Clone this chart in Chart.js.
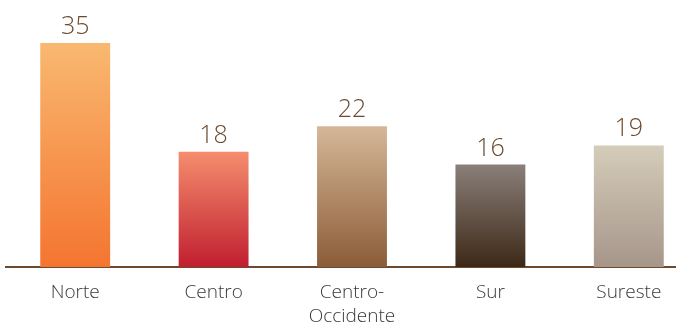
<!DOCTYPE html>
<html>
<head>
<meta charset="utf-8">
<script src="https://cdn.jsdelivr.net/npm/chart.js@4/dist/chart.umd.min.js"></script>
<style>
  html, body { margin: 0; padding: 0; background: #fff; overflow: hidden; }
  #wrap { width: 698px; height: 324px; position: relative; }
</style>
</head>
<body>
<div id="wrap"><canvas id="chart"></canvas></div>
<script>
const regiones = ['Norte', 'Centro', ['Centro-', 'Occidente'], 'Sur', 'Sureste'];
const valores = [35, 18, 22, 16, 19];
const coloresArriba = ['#F9B870', '#F58D6E', '#D5B797', '#8A7F7A', '#D5CCB9'];
const coloresAbajo = ['#F47530', '#C01F2F', '#8C5C38', '#3D2816', '#A6968A'];

const FONT = '"Open Sans", "Lato", sans-serif';

// degradado de cada barra, desde su valor hasta la base
function degradado(ctx) {
  const chart = ctx.chart;
  const { chartArea } = chart;
  if (!chartArea) return coloresArriba[ctx.dataIndex];
  const y = chart.scales.y;
  const top = y.getPixelForValue(valores[ctx.dataIndex]);
  const base = y.getPixelForValue(0);
  const g = chart.ctx.createLinearGradient(0, top, 0, base);
  g.addColorStop(0, coloresArriba[ctx.dataIndex]);
  g.addColorStop(1, coloresAbajo[ctx.dataIndex]);
  return g;
}

const etiquetasValor = {
  id: 'etiquetasValor',
  afterDatasetsDraw(chart) {
    const { ctx } = chart;
    const meta = chart.getDatasetMeta(0);
    ctx.save();
    ctx.font = '300 25px ' + FONT;
    ctx.fillStyle = '#6B4A2E';
    ctx.textAlign = 'center';
    ctx.textBaseline = 'alphabetic';
    meta.data.forEach((bar, i) => {
      ctx.fillText(String(valores[i]), bar.x, bar.y - 9);
    });
    ctx.restore();
  }
};

new Chart(document.getElementById('chart'), {
  type: 'bar',
  data: {
    labels: regiones,
    datasets: [{
      data: valores,
      backgroundColor: degradado,
      borderWidth: 0,
      barPercentage: 0.505,
      categoryPercentage: 1
    }]
  },
  options: {
    responsive: true,
    maintainAspectRatio: false,
    animation: false,
    layout: { padding: { left: 6, right: 0, top: 11, bottom: 0 } },
    plugins: {
      legend: { display: false },
      tooltip: { enabled: false }
    },
    scales: {
      x: {
        grid: { display: false },
        border: { display: true, color: '#6B4A2E', width: 2 },
        ticks: {
          color: '#3a3a3a',
          padding: 6,
          font: { family: FONT, size: 19, weight: 300, lineHeight: 1.25 }
        },
        afterFit(scale) { scale.height = 57; }
      },
      y: {
        display: false,
        min: 0,
        max: 40
      }
    }
  },
  plugins: [etiquetasValor]
});
</script>
</body>
</html>
